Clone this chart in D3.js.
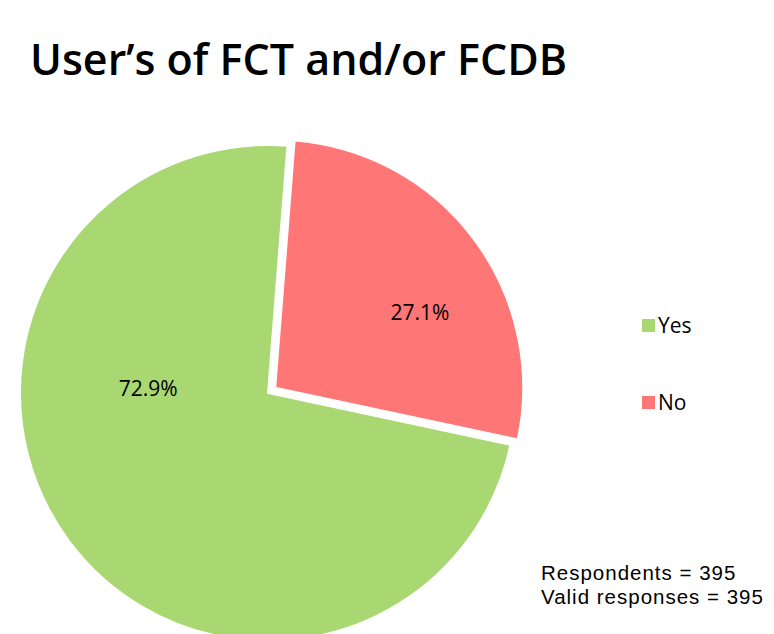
<!DOCTYPE html>
<html>
<head>
<meta charset="utf-8">
<script src="https://cdn.jsdelivr.net/npm/d3@7"></script>
<style>
  body{margin:0;background:#fff;}
  text{font-family:"Open Sans","Noto Sans",sans-serif;fill:#000;}
  text.note{font-family:"Liberation Sans",Arial,sans-serif;letter-spacing:1px;}
</style>
</head>
<body>
<svg id="chart" width="774" height="634"></svg>
<script>
const categories = ['Yes', 'No'];
const values = [72.9, 27.1];
const colors = ['#a9d872', '#ff7676'];
const notes = ['Respondents = 395', 'Valid responses = 395'];
const title = 'User\u2019s of FCT and/or FCDB';

const W = 774, H = 634;
const cx = 268, cy = 393, R = 248;
const startDeg = 4.5;
const explode = [0, 9];
// label placement (radius, angle in degrees from 12 o'clock)
const labelPolar = [[120, 272], [172, 62]];

const svg = d3.select('#chart');

svg.append('text')
  .attr('x', 30).attr('y', 75)
  .style('font-size', '43px').style('font-weight', 600)
  .text(title);

const data = categories.map((c, i) => ({name: c, value: values[i], color: colors[i], ex: explode[i]}));

// No starts just right of 12 o'clock going clockwise, Yes takes the rest
const a0 = startDeg * Math.PI / 180 - 2 * Math.PI * values[0] / 100;
const pie = d3.pie().sort(null).value(d => d.value)
  .startAngle(a0).endAngle(a0 + 2 * Math.PI);
const arcs = pie(data);
const arc = d3.arc().innerRadius(0).outerRadius(R);

const g = svg.append('g').attr('transform', 'translate(' + cx + ',' + cy + ')');

const slice = g.selectAll('g.slice').data(arcs).enter().append('g')
  .attr('class', 'slice')
  .attr('transform', d => {
    const a = (d.startAngle + d.endAngle) / 2;
    return 'translate(' + (Math.sin(a) * d.data.ex) + ',' + (-Math.cos(a) * d.data.ex) + ')';
  });

slice.append('path')
  .attr('d', arc)
  .attr('fill', d => d.data.color)
  .attr('stroke', '#fff').attr('stroke-width', 2);

g.selectAll('text.lbl').data(arcs).enter().append('text')
  .attr('class', 'lbl')
  .attr('x', (d, i) => labelPolar[i][0] * Math.sin(labelPolar[i][1] * Math.PI / 180))
  .attr('y', (d, i) => -labelPolar[i][0] * Math.cos(labelPolar[i][1] * Math.PI / 180))
  .attr('text-anchor', 'middle').attr('dy', '0.35em')
  .style('font-size', '21px')
  .text(d => d.data.value.toFixed(1) + '%');

// legend
const legY = d3.scalePoint().domain(categories).range([326, 403]);
const leg = svg.append('g').selectAll('g').data(data).enter().append('g')
  .attr('transform', d => 'translate(642,' + legY(d.name) + ')');
leg.append('rect').attr('x', 0).attr('y', -7).attr('width', 13).attr('height', 13)
  .attr('fill', d => d.color);
leg.append('text').attr('x', 16).attr('dy', '0.35em')
  .style('font-size', '21px').text(d => d.name);

// footnote
svg.append('g').selectAll('text').data(notes).enter().append('text')
  .attr('class', 'note')
  .attr('x', 541).attr('y', (d, i) => 580 + i * 24)
  .style('font-size', '20.5px')
  .text(d => d);
</script>
</body>
</html>
